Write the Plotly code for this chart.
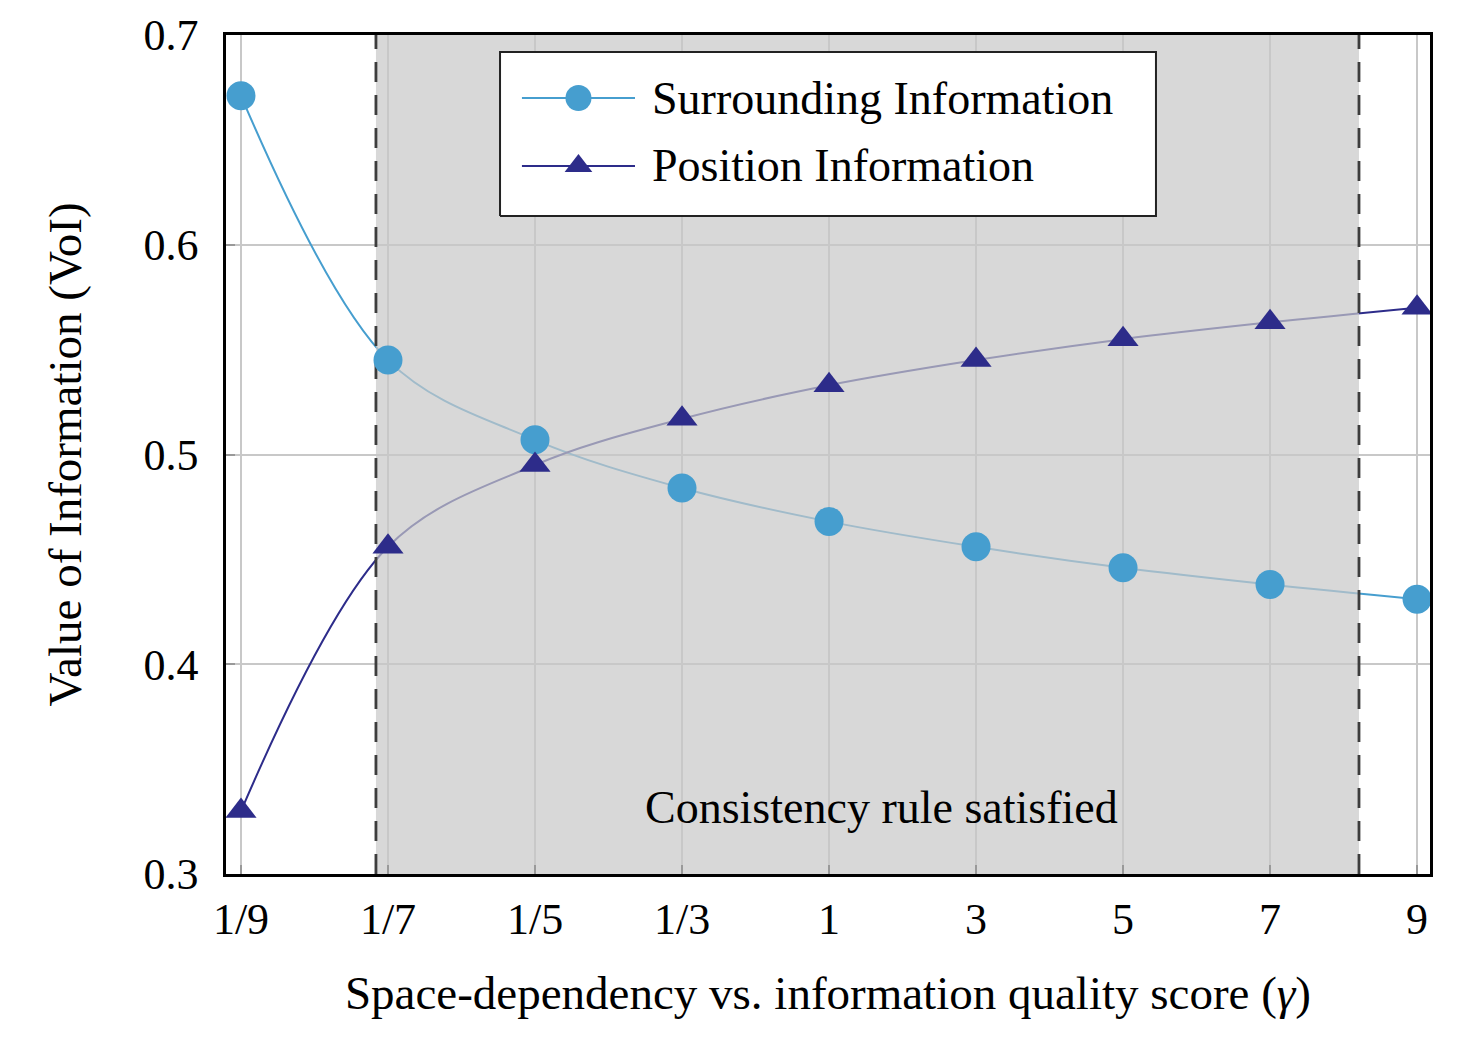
import plotly.graph_objects as go

# ---------------- data ----------------
categories = ["1/9", "1/7", "1/5", "1/3", "1", "3", "5", "7", "9"]
surrounding = [0.671, 0.545, 0.507, 0.484, 0.468, 0.456, 0.446, 0.438, 0.431]
position = [0.330, 0.456, 0.495, 0.517, 0.533, 0.545, 0.555, 0.563, 0.570]
y_ticks = [0.3, 0.4, 0.5, 0.6, 0.7]
series_names = ["Surrounding Information", "Position Information"]
region_bounds = [0.918, 7.605]          # shaded region, in category-index units
region_label = "Consistency rule satisfied"
region_label_pos = [4.36, 0.3315]

# ---------------- styles ----------------
FONT = "Liberation Serif"
C_SUR = "#469ecf"
C_POS = "#2d2c8a"
x = list(range(len(categories)))
y_lo, y_hi = y_ticks[0], y_ticks[-1]

fig = go.Figure()

# spline lines
for vals, col in [(surrounding, C_SUR), (position, C_POS)]:
    fig.add_trace(go.Scatter(x=x, y=vals, mode="lines",
                             line=dict(color=col, width=2, shape="spline", smoothing=1.0),
                             showlegend=False, hoverinfo="skip"))

# shaded region (drawn over the lines, under the markers)
r0, r1 = region_bounds
fig.add_trace(go.Scatter(x=[r0, r1, r1, r0, r0], y=[y_lo, y_lo, y_hi, y_hi, y_lo], mode="lines",
                         fill="toself", fillcolor="rgba(200,200,200,0.7)", line=dict(width=0),
                         showlegend=False, hoverinfo="skip"))
fig.add_trace(go.Scatter(x=[r0, r0, None, r1, r1], y=[y_lo, y_hi, None, y_lo, y_hi], mode="lines",
                         line=dict(color="#3d3d3d", width=2.8, dash="20px,13px"),
                         showlegend=False, hoverinfo="skip"))

# markers
fig.add_trace(go.Scatter(x=x, y=surrounding, mode="markers",
                         marker=dict(symbol="circle", size=29, color=C_SUR),
                         name=series_names[0], showlegend=False))
fig.add_trace(go.Scatter(x=x, y=position, mode="markers",
                         marker=dict(symbol="triangle-up", size=27, color=C_POS),
                         name=series_names[1], showlegend=False))

# ---------------- legend box (drawn on an overlay axis in paper-like units) ----------------
lx0, lx1, ly0, ly1 = 0.2276, 0.7724, 0.7843, 0.9797
rows = [0.9249, 0.8439]
seg = [0.2458, 0.3397]
fig.add_trace(go.Scatter(x=[lx0, lx1, lx1, lx0, lx0], y=[ly0, ly0, ly1, ly1, ly0], mode="lines",
                         fill="toself", fillcolor="white", line=dict(color="#222222", width=2),
                         xaxis="x2", yaxis="y2", showlegend=False, hoverinfo="skip"))
for row, col, sym, sz in [(rows[0], C_SUR, "circle", 26), (rows[1], C_POS, "triangle-up", 24)]:
    fig.add_trace(go.Scatter(x=seg, y=[row, row], mode="lines", line=dict(color=col, width=2),
                             xaxis="x2", yaxis="y2", showlegend=False, hoverinfo="skip"))
    fig.add_trace(go.Scatter(x=[(seg[0] + seg[1]) / 2], y=[row], mode="markers",
                             marker=dict(symbol=sym, size=sz, color=col),
                             xaxis="x2", yaxis="y2", showlegend=False, hoverinfo="skip"))
for row, name in zip(rows, series_names):
    fig.add_annotation(x=0.352, y=row, xref="paper", yref="paper", text=name, showarrow=False,
                       xanchor="left", yanchor="middle", font=dict(family=FONT, size=46, color="black"))

fig.add_annotation(x=region_label_pos[0], y=region_label_pos[1], text=region_label, showarrow=False,
                   xanchor="center", yanchor="middle", font=dict(family=FONT, size=46, color="black"))

fig.update_layout(
    width=1459, height=1038,
    margin=dict(l=226, r=29, t=35, b=164),
    paper_bgcolor="white", plot_bgcolor="white",
    font=dict(family=FONT, size=44, color="black"),
    showlegend=False,
    xaxis=dict(range=[-0.102, 8.088], tickmode="array", tickvals=x, ticktext=categories,
               showgrid=True, gridcolor="#c8c8c8", gridwidth=2, zeroline=False,
               showline=True, linecolor="black", linewidth=2.5, mirror=True,
               ticks="inside", ticklen=9, tickcolor="#999999", tickwidth=2,
               ticklabelstandoff=4, tickfont=dict(size=44),
               title=dict(text="Space-dependency vs. information quality score (<i>γ</i>)",
                          font=dict(size=47), standoff=34)),
    yaxis=dict(range=[y_lo, y_hi], tickmode="array", tickvals=y_ticks,
               ticktext=[f"{v:.1f}" for v in y_ticks],
               showgrid=True, gridcolor="#c8c8c8", gridwidth=2, zeroline=False,
               showline=True, linecolor="black", linewidth=2.5, mirror=True,
               ticks="inside", ticklen=9, tickcolor="#999999", tickwidth=2,
               ticklabelstandoff=16, tickfont=dict(size=44),
               title=dict(text="Value of Information (VoI)", font=dict(size=47), standoff=48)),
    xaxis2=dict(overlaying="x", range=[0, 1], visible=False, fixedrange=True),
    yaxis2=dict(overlaying="y", range=[0, 1], visible=False, fixedrange=True),
)

fig.write_html("out.html")
